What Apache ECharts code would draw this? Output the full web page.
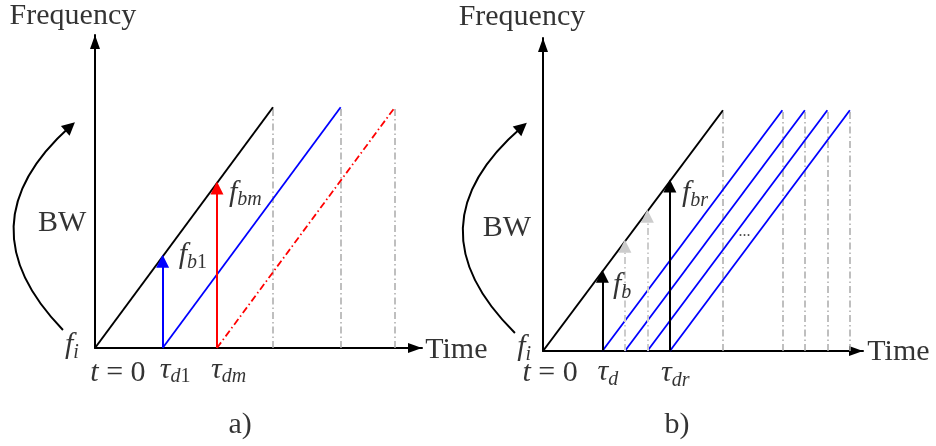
<!DOCTYPE html>
<html>
<head>
<meta charset="UTF-8">
<title>FMCW chirps</title>
<script src="https://cdn.jsdelivr.net/npm/echarts@6/dist/echarts.min.js"></script>
</head>
<body style="margin:0;background:#fff">
<div id="main" style="width:936px;height:446px;"></div>
<script>
// one chirp lasts chirpT and sweeps bandW (same units on both panels)
var chirpT = 10;
var bandW = 10;
// a) two targets: tau_d1, tau_dm
var delaysA = [3.8, 6.85];
var echoColorsA = ['#0000ff', '#ff0000'];
// b) several echoes, only first and last beat arrows in black
var delaysB = [3.3, 4.55, 5.8, 7.05];
var beatColorsB = ['#000', '#cccccc', '#cccccc', '#000'];

// text: [time, freq, rich text]
var labelsA = [
  [-1.24, 13.8, '{r|Frequency}'],
  [20.3, -0.08, '{r|Time}'],
  [-1.85, 5.2, '{r|BW}'],
  [-1.3, 0.1, '{m|f}{s|i}'],
  [1.29, -1.05, '{m|t}{r| = 0}'],
  [4.5, -0.9, '{m|τ}{s|d}{su|1}'],
  [7.5, -0.9, '{m|τ}{s|dm}'],
  [5.5, 3.85, '{m|f}{s|b}{su|1}'],
  [8.45, 6.45, '{m|f}{s|bm}'],
  [8.15, -3.2, '{r|a)}']
];
var labelsB = [
  [-1.17, 13.85, '{r|Frequency}'],
  [19.75, -0.05, '{r|Time}'],
  [-2.0, 5.1, '{r|BW}'],
  [-1.05, 0.15, '{m|f}{s|i}'],
  [0.39, -0.92, '{m|t}{r| = 0}'],
  [3.6, -0.88, '{m|τ}{s|d}'],
  [7.35, -0.92, '{m|τ}{s|dr}'],
  [4.4, 2.75, '{m|f}{s|b}'],
  [8.45, 6.55, '{m|f}{s|br}'],
  [11.2, 4.95, '{d|...}'],
  [7.44, -3.07, '{r|b)}']
];
// curved BW arrow ends (start, end)
var bwArrowA = [[-1.8, 0.75], [-1.4, 9.2]];
var bwArrowB = [[-1.56, 0.75], [-1.17, 9.3]];

var serif = 'Liberation Serif';
var rich = {
  r: {fontFamily: serif, fontSize: 30, color: '#000', lineHeight: 32},
  m: {fontFamily: serif, fontSize: 30, fontStyle: 'italic', color: '#000', lineHeight: 32},
  s: {fontFamily: serif, fontSize: 20, fontStyle: 'italic', color: '#000', lineHeight: 20, padding: [15, 0, 0, 0]},
  su: {fontFamily: serif, fontSize: 20, color: '#000', lineHeight: 20, padding: [15, 0, 0, 0]},
  d: {fontFamily: serif, fontSize: 16, color: '#222'}
};
var dashDot = [7, 3, 1.5, 3];

var myChart = echarts.init(document.getElementById('main'));

function axes(idx, xmax, ymax) {
  var line = {
    show: true,
    onZero: false,
    symbol: ['none', 'triangle'],
    symbolSize: [10, 14],
    symbolOffset: [0, -7],
    lineStyle: {color: '#000', width: 2}
  };
  return {
    x: {type: 'value', gridIndex: idx, min: 0, max: xmax, axisLine: line,
        axisTick: {show: false}, axisLabel: {show: false}, splitLine: {show: false}},
    y: {type: 'value', gridIndex: idx, min: 0, max: ymax, axisLine: line,
        axisTick: {show: false}, axisLabel: {show: false}, splitLine: {show: false}}
  };
}

function panel(idx, delays, echoTypes, echoColors, beatColors, beatTypes, labels, bwArrow, curv) {
  var s = [];
  var base = {xAxisIndex: idx, yAxisIndex: idx, silent: true};
  // gray guides at chirp ends
  var guides = [{coords: [[chirpT, 0], [chirpT, bandW]]}];
  delays.forEach(function (d) {
    guides.push({coords: [[d + chirpT, 0], [d + chirpT, bandW]]});
  });
  s.push(Object.assign({type: 'lines', coordinateSystem: 'cartesian2d', clip: false,
    symbol: 'none', data: guides, z: 1,
    lineStyle: {color: '#aaaaaa', width: 1.5, type: dashDot, opacity: 1}}, base));
  // transmitted chirp
  s.push(Object.assign({type: 'line', data: [[0, 0], [chirpT, bandW]], showSymbol: false, z: 3,
    lineStyle: {color: '#000', width: 2}}, base));
  // echoes
  delays.forEach(function (d, i) {
    s.push(Object.assign({type: 'line', data: [[d, 0], [d + chirpT, bandW]], showSymbol: false, z: 2,
      lineStyle: {color: echoColors[i], width: 1.8, type: echoTypes[i]}}, base));
  });
  // beat frequency arrows
  delays.forEach(function (d, i) {
    s.push(Object.assign({type: 'lines', coordinateSystem: 'cartesian2d', clip: false, z: 4,
      symbol: ['none', 'triangle'], symbolSize: [0, 13],
      data: [{coords: [[d, 0], [d, d * bandW / chirpT - 0.2]]}],
      lineStyle: {color: beatColors[i], width: 2, type: beatTypes[i], opacity: 1}}, base));
  });
  // BW arrow
  s.push(Object.assign({type: 'lines', coordinateSystem: 'cartesian2d', clip: false, z: 4,
    symbol: ['none', 'triangle'], symbolSize: [0, 13],
    data: [{coords: bwArrow}],
    lineStyle: {color: '#000', width: 2, curveness: curv, opacity: 1}}, base));
  // texts
  s.push(Object.assign({type: 'scatter', clip: false, symbolSize: 0, z: 5,
    data: labels.map(function (l) {
      return {value: [l[0], l[1]], label: {formatter: l[2]}};
    }),
    label: {show: true, position: 'inside', color: '#000', rich: rich}}, base));
  return s;
}

var aA = axes(0, 18.37, 13);
var aB = axes(1, 17.78, 13);

myChart.setOption({
  backgroundColor: '#fff',
  animation: false,
  grid: [
    {left: 95, top: 35, width: 327, height: 313},
    {left: 543, top: 38, width: 320, height: 313}
  ],
  xAxis: [aA.x, aB.x],
  yAxis: [aA.y, aB.y],
  series: [].concat(
    panel(0, delaysA, ['solid', dashDot], echoColorsA, echoColorsA, ['solid', 'solid'], labelsA, bwArrowA, 0.52),
    panel(1, delaysB, ['solid', 'solid', 'solid', 'solid'], ['#0000ff', '#0000ff', '#0000ff', '#0000ff'],
      beatColorsB, ['solid', dashDot, dashDot, 'solid'], labelsB, bwArrowB, 0.54)
  )
});
</script>
</body>
</html>
